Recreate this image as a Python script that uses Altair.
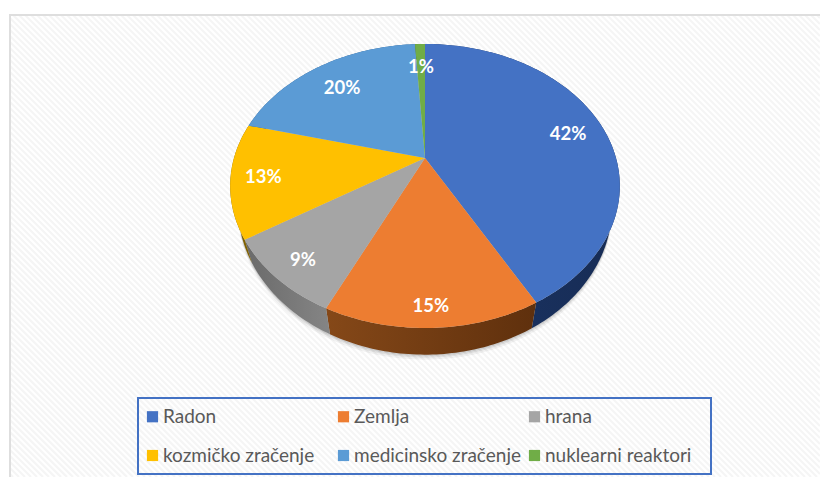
import math
import altair as alt
import pandas as pd

names = ["Radon", "Zemlja", "hrana", "kozmičko zračenje", "medicinsko zračenje", "nuklearni reaktori"]
shares = [42, 15, 9, 13, 20, 1]
labels = ["42%", "15%", "9%", "13%", "20%", "1%"]

top_colors = ["#4472c4", "#ed7d31", "#a5a5a5", "#ffc000", "#5b9bd5", "#70ad47"]
side_colors = [
    ("#1b3566", "#172c55"), ("#854818", "#5f300d"), ("#6a6a6a", "#858585"),
    ("#7f6000", "#7f6000"), ("#2e5f8f", "#2e5f8f"), ("#3f6428", "#3f6428"),
]
label_fraction = [0.78, 0.93, 0.90, 0.84, 0.80, 0.78]
label_nudge = [(4, 2), (-1, -7), (9, -4), (1, 1), (4, 5), (0, 1)]

CX, CY, R, B, K = 425.0, 158.0, 191.0, 136.5, 0.197
MID_Y = 186.0
W, H = 820, 477


def project(theta, f=1.0):
    s, c = f * math.sin(theta), f * math.cos(theta)
    d = 1 + K * c
    return CX + R * s / d, CY - B * c / d


def lower(px, py):
    return CX + (px - CX) * 0.96, MID_Y + (py - MID_Y) * 1.04 + 21


def angles(a, b, step=1.0):
    n = max(2, int((b - a) / step) + 1)
    return [math.radians(a + (b - a) * i / (n - 1)) for i in range(n)]


starts, acc = [], 0
for v in shares:
    starts.append(acc)
    acc += v
ends = [a + v for a, v in zip(starts, shares)]

x_scale = alt.Scale(domain=[8, W], range=[0, W - 8], nice=False, zero=False)
y_scale = alt.Scale(domain=[H, 8], nice=False, zero=False)
X = alt.X("x:Q", scale=x_scale, axis=None)
Y = alt.Y("y:Q", scale=y_scale, axis=None)

# background hatching
hatch = []
for c in range(-470, 830, 6):
    if c + 15 >= 10:
        x0, y0 = c + 15, 15
    else:
        x0, y0 = 10, 10 - c
    y1 = W - c
    if y1 > H:
        y1, x1 = H, H + c
    else:
        x1 = W
    if x1 > x0:
        hatch.append(dict(x=x0, y=y0, x2=x1, y2=y1))
hatch_layer = alt.Chart(pd.DataFrame(hatch)).mark_rule(
    color="#f5f5f5", strokeWidth=2.2
).encode(x=X, y=Y, x2="x2:Q", y2="y2:Q")

frame_v = alt.Chart(pd.DataFrame([dict(x=10, y=14, y2=H)])).mark_rule(
    color="#dedede", strokeWidth=2
).encode(x=X, y=Y, y2="y2:Q")
frame_h = alt.Chart(pd.DataFrame([dict(x=9, x2=W, y=15)])).mark_rule(
    color="#dedede", strokeWidth=2
).encode(x=X, x2="x2:Q", y=Y)

# legend box
legend_box = alt.Chart(pd.DataFrame([dict(x=138, x2=711, y=398, y2=474)])).mark_rect(
    filled=False, stroke="#4472c4", strokeWidth=2
).encode(x=X, x2="x2:Q", y=Y, y2="y2:Q")

# soft shadow under the pie
shadow_layers = []
for extra, op in [(5, 0.05), (3, 0.07), (1.5, 0.08)]:
    pts = []
    for i, t in enumerate(angles(0, 360, 3)):
        px, py = lower(*project(t))
        pts.append(dict(x=px, y=py + extra, i=i))
    shadow_layers.append(
        alt.Chart(pd.DataFrame(pts)).mark_line(filled=True, fill="#000000", fillOpacity=op, strokeWidth=0)
        .encode(x=X, y=Y, order="i:Q")
    )

# sides
side_layers = []
for k in range(len(names)):
    a, b = starts[k] * 3.6, ends[k] * 3.6
    ts = [t for t in angles(a, b) ]
    upper = [project(t) for t in ts]
    low = [lower(*p) for p in upper]
    ring = upper + low[::-1]
    df = pd.DataFrame([dict(x=p[0], y=p[1], i=i) for i, p in enumerate(ring)])
    c0, c1 = side_colors[k]
    grad = alt.Gradient(gradient="linear", x1=0, y1=0, x2=1, y2=0,
                        stops=[alt.GradientStop(color=c0, offset=0), alt.GradientStop(color=c1, offset=1)])
    side_layers.append(
        alt.Chart(df).mark_line(filled=True, fill=grad, strokeWidth=0).encode(x=X, y=Y, order="i:Q")
    )

# top surface
rows = []
for k, name in enumerate(names):
    a, b = starts[k] * 3.6, ends[k] * 3.6
    ring = [(CX, CY)] + [project(t) for t in angles(a, b)]
    for i, p in enumerate(ring):
        rows.append(dict(x=p[0], y=p[1], i=i, name=name))
top_layer = alt.Chart(pd.DataFrame(rows)).mark_line(filled=True, strokeWidth=0).encode(
    x=X, y=Y, order="i:Q",
    fill=alt.Fill(
        "name:N",
        sort=names,
        scale=alt.Scale(domain=names, range=top_colors),
        legend=alt.Legend(
            title=None, orient="none", legendX=127, legendY=391, columns=3, gridAlign="all",
            direction="horizontal",
            symbolType="square", symbolSize=125, symbolStrokeWidth=0, symbolOpacity=1,
            labelFont="Lato", labelFontSize=19, labelColor="#595959", labelLimit=300,
            labelOffset=1, rowPadding=19, columnPadding=4, padding=8,
        ),
    ),
)

# data labels
text_layers = []
for k, lab in enumerate(labels):
    mid = math.radians((starts[k] + ends[k]) / 2 * 3.6)
    px, py = project(mid, label_fraction[k])
    text_layers.append(
        alt.Chart(pd.DataFrame([dict(x=px, y=py, t=lab)])).mark_text(
            font="Lato", fontSize=18.5, fontWeight="bold", color="#ffffff",
            dx=label_nudge[k][0], dy=label_nudge[k][1],
        ).encode(x=X, y=Y, text="t:N")
    )

chart = alt.layer(
    hatch_layer, frame_v, frame_h, legend_box, *shadow_layers, *side_layers, top_layer, *text_layers
).properties(
    width=W - 8, height=H - 8, padding=0, autosize=alt.AutoSizeParams(type="none"),
    background="#ffffff",
).configure_view(stroke=None)

chart.save("out.html", embed_options={"renderer": "svg", "actions": False})
